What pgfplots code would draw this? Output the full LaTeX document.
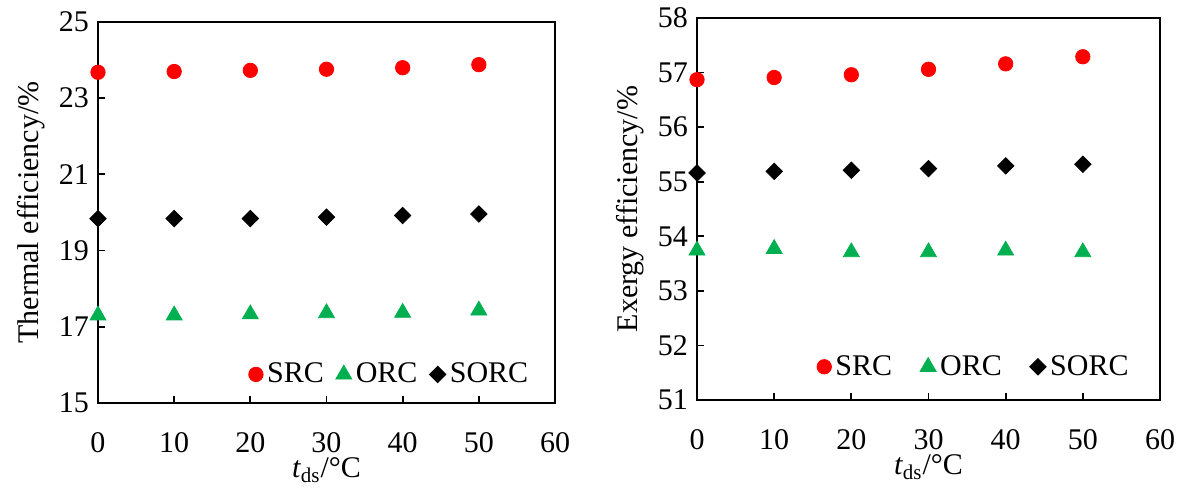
\documentclass[border=0pt]{standalone}
\usepackage{fontspec}
\setmainfont{Liberation Serif}
\usepackage{pgfplots}
\pgfplotsset{compat=1.18}
\definecolor{xlgreen}{RGB}{0,176,80}
\definecolor{xlred}{RGB}{255,0,0}
\pgfplotsset{myax/.style={
  scale only axis,
  axis line style={line width=1pt},
  xmin=0, xmax=60, xtick={0,10,...,60},
  tick align=inside, ytick pos=left, xtick pos=bottom,
  major tick length=3.5pt,
  tick style={line width=0.9pt, black},
  font=\fontsize{15}{18}\selectfont,
  /pgf/number format/assume math mode=true,
  xticklabel style={yshift=-11pt},
  yticklabel style={xshift=-1pt},
  legend columns=3,
  legend cell align=left,
  clip=false,
  xlabel={\textit{t}\textsubscript{ds}/°C},
  xlabel style={yshift=4pt},
  srcst/.style={only marks, mark=*, mark size=3.6pt, color=xlred},
  orcst/.style={only marks, mark=triangle*, mark size=4.6pt, color=xlgreen},
  sorcst/.style={only marks, mark=square*, mark size=2.9pt, mark options={rotate=45}, color=black},
}}
\begin{document}
\begin{tikzpicture}
\begin{axis}[myax, at={(0,0)}, width=228.5pt, height=190.5pt,
  ymin=15, ymax=25, ytick={15,17,...,25},
  ylabel={Thermal efficiency/\%}, ylabel style={yshift=0pt},
  legend style={draw=none, fill=none, at={(0.64,0.075)}, anchor=center,
    /tikz/every even column/.append style={column sep=4pt}}]
\addplot[srcst] coordinates {(0,23.68) (10,23.70) (20,23.73) (30,23.76) (40,23.80) (50,23.88)};
\addlegendentry{SRC}
\addplot[orcst] coordinates {(0,17.30) (10,17.30) (20,17.33) (30,17.36) (40,17.37) (50,17.43)};
\addlegendentry{ORC}
\addplot[sorcst] coordinates {(0,19.84) (10,19.84) (20,19.84) (30,19.88) (40,19.92) (50,19.96)};
\addlegendentry{SORC}
\end{axis}
\begin{axis}[myax, at={(299.5pt,1.5pt)}, width=231.5pt, height=191pt,
  ymin=51, ymax=58, ytick={51,...,58},
  ylabel={Exergy efficiency/\%},
  legend style={draw=none, fill=none, at={(0.6,0.087)}, anchor=center,
    /tikz/every even column/.append style={column sep=12pt}}]
\addplot[srcst] coordinates {(0,56.87) (10,56.91) (20,56.96) (30,57.06) (40,57.16) (50,57.29)};
\addlegendentry{SRC}
\addplot[orcst] coordinates {(0,53.74) (10,53.77) (20,53.71) (30,53.71) (40,53.74) (50,53.71)};
\addlegendentry{ORC}
\addplot[sorcst] coordinates {(0,55.16) (10,55.19) (20,55.21) (30,55.24) (40,55.29) (50,55.32)};
\addlegendentry{SORC}
\end{axis}
\pgfresetboundingbox
\useasboundingbox (-49pt,-44pt) rectangle (547pt,201.5pt);
\end{tikzpicture}
\end{document}
